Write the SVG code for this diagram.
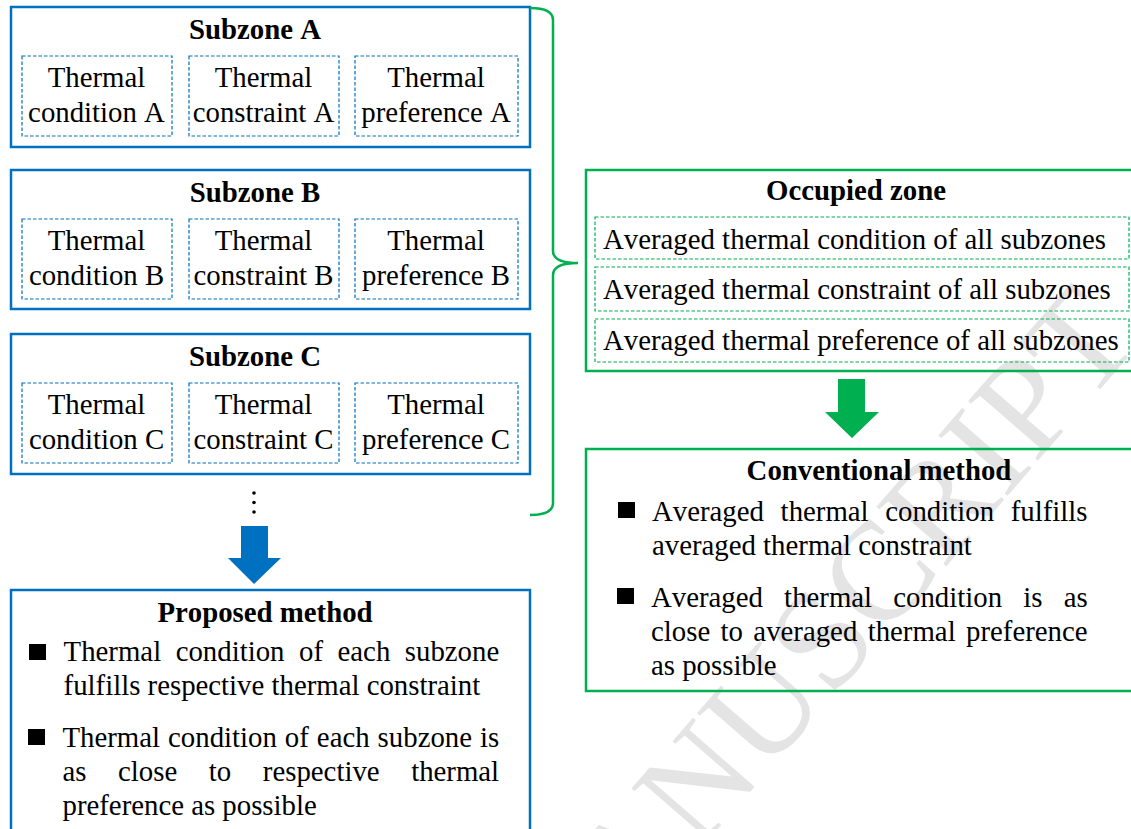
<svg xmlns="http://www.w3.org/2000/svg" width="1131" height="829" viewBox="0 0 1131 829">
<style>
text{font-family:"Liberation Serif","Times New Roman",serif;font-size:28.8px;fill:#000;font-kerning:none}
.b{font-weight:bold}
.c{text-anchor:middle}
.ob{fill:none;stroke:#0070C0;stroke-width:2.5}
.ib{fill:none;stroke:#0070C0;stroke-width:1.2;stroke-dasharray:3.5 2}
.og{fill:none;stroke:#00B050;stroke-width:2.5}
.ig{fill:none;stroke:#00B050;stroke-width:1.2;stroke-dasharray:3.5 2}
.wm{font-size:140px;fill:#e4e4e4}
</style>
<rect width="1131" height="829" fill="#fff"/>
<g id="watermark"><text class="wm" transform="translate(550,1022) rotate(-49)">MANUSCRIPT</text></g>

<g id="subzoneA">
<rect class="ob" x="11" y="7" width="519" height="140"/>
<text class="b c" x="255" y="39">Subzone A</text>
<rect class="ib" x="22" y="56" width="150" height="80"/>
<rect class="ib" x="189" y="56" width="150" height="80"/>
<rect class="ib" x="355" y="56" width="163" height="80"/>
<text class="c" x="96.5" y="87">Thermal</text><text class="c" x="96.5" y="122">condition A</text>
<text class="c" x="263.5" y="87">Thermal</text><text class="c" x="263.5" y="122">constraint A</text>
<text class="c" x="436" y="87">Thermal</text><text class="c" x="436" y="122">preference A</text>
</g>

<g id="subzoneB">
<rect class="ob" x="11" y="170" width="519" height="139"/>
<text class="b c" x="255" y="202">Subzone B</text>
<rect class="ib" x="22" y="219" width="150" height="80"/>
<rect class="ib" x="189" y="219" width="150" height="80"/>
<rect class="ib" x="355" y="219" width="163" height="80"/>
<text class="c" x="96.5" y="250">Thermal</text><text class="c" x="96.5" y="285">condition B</text>
<text class="c" x="263.5" y="250">Thermal</text><text class="c" x="263.5" y="285">constraint B</text>
<text class="c" x="436" y="250">Thermal</text><text class="c" x="436" y="285">preference B</text>
</g>

<g id="subzoneC">
<rect class="ob" x="11" y="334" width="519" height="140"/>
<text class="b c" x="255" y="366">Subzone C</text>
<rect class="ib" x="22" y="383" width="150" height="80"/>
<rect class="ib" x="189" y="383" width="150" height="80"/>
<rect class="ib" x="355" y="383" width="163" height="80"/>
<text class="c" x="96.5" y="414">Thermal</text><text class="c" x="96.5" y="449">condition C</text>
<text class="c" x="263.5" y="414">Thermal</text><text class="c" x="263.5" y="449">constraint C</text>
<text class="c" x="436" y="414">Thermal</text><text class="c" x="436" y="449">preference C</text>
</g>

<g id="ellipsis" fill="#000">
<circle cx="254" cy="493" r="1.8"/><circle cx="254" cy="502.5" r="1.8"/><circle cx="254" cy="512" r="1.8"/>
</g>

<g id="proposed">
<rect class="ob" x="11" y="590" width="519" height="260"/>
<text class="b c" x="265" y="622">Proposed method</text>
<rect x="29" y="644" width="17" height="16" fill="#000"/>
<text x="63.6" y="661" word-spacing="7.35">Thermal condition of each subzone</text>
<text x="63.6" y="695">fulfills respective thermal constraint</text>
<rect x="28" y="729" width="17" height="16" fill="#000"/>
<text x="62.5" y="747" word-spacing="0.82">Thermal condition of each subzone is</text>
<text x="62.5" y="781" word-spacing="24.4">as close to respective thermal</text>
<text x="62.5" y="815">preference as possible</text>
</g>

<g id="occupied">
<rect class="og" x="586" y="170" width="560" height="201"/>
<text class="b c" x="856" y="200">Occupied zone</text>
<rect class="ig" x="595" y="217" width="534" height="42"/>
<rect class="ig" x="595" y="267" width="534" height="44"/>
<rect class="ig" x="595" y="319" width="534" height="43"/>
<text x="603" y="249">Averaged thermal condition of all subzones</text>
<text x="603" y="299">Averaged thermal constraint of all subzones</text>
<text x="603" y="350">Averaged thermal preference of all subzones</text>
</g>

<g id="conventional">
<rect class="og" x="586" y="449" width="560" height="242"/>
<text class="b c" x="879" y="480">Conventional method</text>
<rect x="618" y="502" width="17" height="16" fill="#000"/>
<text x="652" y="521" word-spacing="9.5">Averaged thermal condition fulfills</text>
<text x="652" y="555">averaged thermal constraint</text>
<rect x="617" y="588" width="17" height="16" fill="#000"/>
<text x="651" y="607" word-spacing="14">Averaged thermal condition is as</text>
<text x="651" y="641" word-spacing="3.2">close to averaged thermal preference</text>
<text x="651" y="675">as possible</text>
</g>

<g id="connectors">
<path class="og" d="M530,8 Q553,8 553,20 L553,251 Q553,263 578,263 Q553,263 553,275 L553,503 Q553,515 530,515"/>
<polygon fill="#0070C0" points="241,526 268,526 268,558 281,558 254,584 228,558 241,558"/>
<polygon fill="#00B050" points="838,379 865,379 865,412 879,412 852,438 825,412 838,412"/>
</g>
</svg>
